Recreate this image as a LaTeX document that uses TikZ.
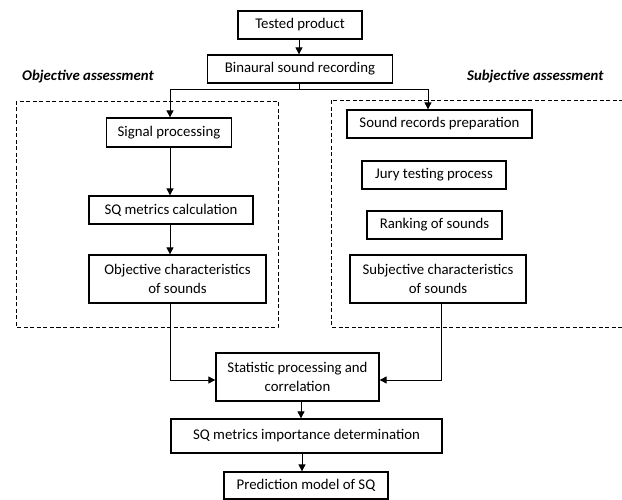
\documentclass[tikz,border=0pt]{standalone}
\usepackage{fontspec}
\setmainfont{Carlito}
\usetikzlibrary{arrows.meta}
\begin{document}
\begin{tikzpicture}[x=1pt,y=-1pt,
  stepbox/.style={draw, line width=1.3pt, inner sep=0pt, align=center,
    font=\fontsize{14.8}{19.3}\selectfont},
  arr/.style={line width=0.9pt, -{Triangle[length=7pt,width=7pt]}},
  link/.style={line width=0.9pt},
  group/.style={line width=0.7pt, dash pattern=on 4pt off 2.5pt},
  heading/.style={font=\fontsize{14.8}{17}\selectfont\bfseries\itshape, anchor=west, inner sep=0pt}]
\useasboundingbox (0,0) rectangle (622,500);

% assessment groups
\draw[group] (16,101) rectangle (278,327);
\draw[group] (623,100) -- (331,100) -- (331,327) -- (623,327);
\node[heading] (objlbl) at (22,77) {Objective assessment};
\node[heading] (subjlbl) at (467,77) {Subjective assessment};

% process steps
\node[stepbox, minimum width=124pt, minimum height=28pt] (tested) at (300,25) {Tested product};
\node[stepbox, minimum width=185pt, minimum height=28pt] (binaural) at (300,69) {Binaural sound recording};

\node[stepbox, minimum width=125pt, minimum height=29pt] (signal) at (169,132.5) {Signal processing};
\node[stepbox, minimum width=164pt, minimum height=28pt] (sqcalc) at (171,210) {SQ metrics calculation};
\node[stepbox, minimum width=177pt, minimum height=48pt] (objchar) at (177.5,279) {Objective characteristics\\of sounds};

\node[stepbox, minimum width=185pt, minimum height=28pt] (soundrec) at (439.5,124) {Sound records preparation};
\node[stepbox, minimum width=144pt, minimum height=28pt] (jury) at (434,175) {Jury testing process};
\node[stepbox, minimum width=135pt, minimum height=28pt] (ranking) at (434.5,225) {Ranking of sounds};
\node[stepbox, minimum width=176pt, minimum height=48pt] (subjchar) at (438,279) {Subjective characteristics\\of sounds};

\node[stepbox, minimum width=163pt, minimum height=48pt] (stats) at (297.5,377) {Statistic processing and\\correlation};
\node[stepbox, minimum width=271pt, minimum height=34pt] (sqimp) at (306.5,436) {SQ metrics importance determination};
\node[stepbox, minimum width=164pt, minimum height=27pt] (pred) at (306,485.5) {Prediction model of SQ};

% routing columns and rows
\coordinate (split) at (299,89);
\coordinate (colL) at (170,0);
\coordinate (colR) at (428,0);
\coordinate (colS) at (441,0);
\coordinate (colM) at (301,0);
\coordinate (colP) at (302,0);
\coordinate (rowJ) at (0,380);

% connectors
\draw[arr] (tested.south -| split) -- (binaural.north -| split);
\draw[link] (binaural.south -| split) -- (split);
\draw[arr] (split) -| (signal.north -| colL);
\draw[arr] (split) -| (soundrec.north -| colR);
\draw[arr] (signal.south -| colL) -- (sqcalc.north -| colL);
\draw[arr] (sqcalc.south -| colL) -- (objchar.north -| colL);
\draw[arr] (objchar.south -| colL) |- (stats.west |- rowJ);
\draw[arr] (subjchar.south -| colS) |- (stats.east |- rowJ);
\draw[arr] (stats.south -| colM) -- (sqimp.north -| colM);
\draw[arr] (sqimp.south -| colP) -- (pred.north -| colP);
\end{tikzpicture}
\end{document}
